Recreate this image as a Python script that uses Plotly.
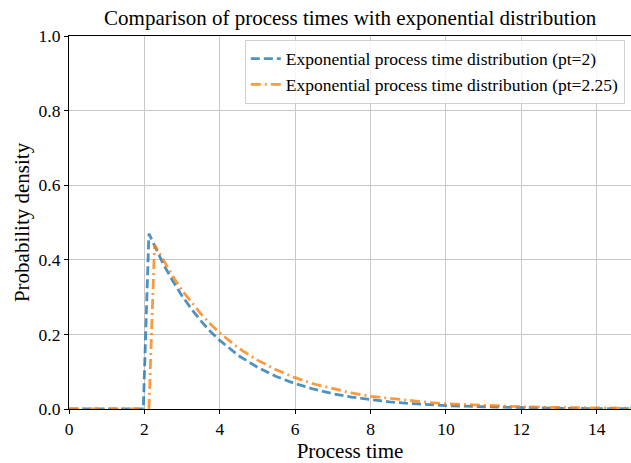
import plotly.graph_objects as go

# Process time samples and probability densities for the two distributions
x_pt2 = [0.0, 1.97, 2.12, 2.25, 2.5, 2.75, 3.0, 3.25, 3.5, 3.75, 4.0, 4.5, 5.0, 5.5,
         6.0, 6.5, 7.0, 7.5, 8.0, 8.5, 9.0, 9.5, 10.0, 11.0, 12.0, 13.0, 14.0, 15.0]
y_pt2 = [0.0, 0.0, 0.470, 0.441, 0.389, 0.344, 0.303, 0.268, 0.236, 0.208, 0.184, 0.143,
         0.112, 0.087, 0.068, 0.053, 0.041, 0.032, 0.025, 0.019, 0.015, 0.012, 0.009,
         0.006, 0.003, 0.002, 0.001, 0.001]

x_pt225 = [0.0, 2.12, 2.27, 2.5, 2.75, 3.0, 3.25, 3.5, 3.75, 4.0, 4.5, 5.0, 5.5, 6.0,
           6.5, 7.0, 7.5, 8.0, 8.5, 9.0, 9.5, 10.0, 11.0, 12.0, 13.0, 14.0, 15.0]
y_pt225 = [0.0, 0.0, 0.440, 0.398, 0.356, 0.318, 0.285, 0.255, 0.228, 0.204, 0.163,
           0.131, 0.105, 0.084, 0.067, 0.054, 0.043, 0.034, 0.028, 0.022, 0.018, 0.014,
           0.009, 0.006, 0.004, 0.002, 0.002]

names = ["Exponential process time distribution (pt=2)",
         "Exponential process time distribution (pt=2.25)"]

x_ticks = [0, 2, 4, 6, 8, 10, 12, 14]
y_ticks = [0.0, 0.2, 0.4, 0.6, 0.8, 1.0]

FONT = "Liberation Serif, Times New Roman, serif"

fig = go.Figure()
fig.add_trace(go.Scatter(
    x=x_pt2, y=y_pt2, mode="lines", name=names[0],
    line=dict(color="rgba(31,119,180,0.8)", width=2.8, dash="9px,4px"),
))
fig.add_trace(go.Scatter(
    x=x_pt225, y=y_pt225, mode="lines", name=names[1],
    line=dict(color="rgba(255,127,14,0.8)", width=2.8, dash="10px,4px,2px,4px"),
))

axis_common = dict(
    showgrid=True, gridcolor="#c8c8c8", gridwidth=1,
    showline=True, linecolor="black", linewidth=1.2,
    ticks="outside", ticklen=4, tickcolor="black", tickwidth=1,
    zeroline=False,
    tickfont=dict(family=FONT, size=17.5, color="black"),
)

fig.update_layout(
    width=631, height=463,
    margin=dict(l=69, r=0, t=36, b=54),
    paper_bgcolor="white", plot_bgcolor="white",
    font=dict(family=FONT, color="black"),
    title=dict(text="Comparison of process times with exponential distribution",
               font=dict(family=FONT, size=21, color="black"),
               x=0.555, xanchor="center", y=0.962, yanchor="middle"),
    xaxis=dict(range=[0, 14.91], tickvals=x_ticks, mirror=True,
               title=dict(text="Process time", font=dict(family=FONT, size=21), standoff=4),
               **axis_common),
    yaxis=dict(range=[0, 1.0], tickvals=y_ticks, tickformat=".1f",
               title=dict(text="Probability density", font=dict(family=FONT, size=21), standoff=3),
               **axis_common),
    legend=dict(x=0.989, y=0.99, xanchor="right", yanchor="top",
                bgcolor="rgba(255,255,255,0.8)", bordercolor="#d0d0d0", borderwidth=1,
                font=dict(family=FONT, size=17.5, color="black"), tracegroupgap=0),
    showlegend=True,
)

fig.write_html("out.html")
